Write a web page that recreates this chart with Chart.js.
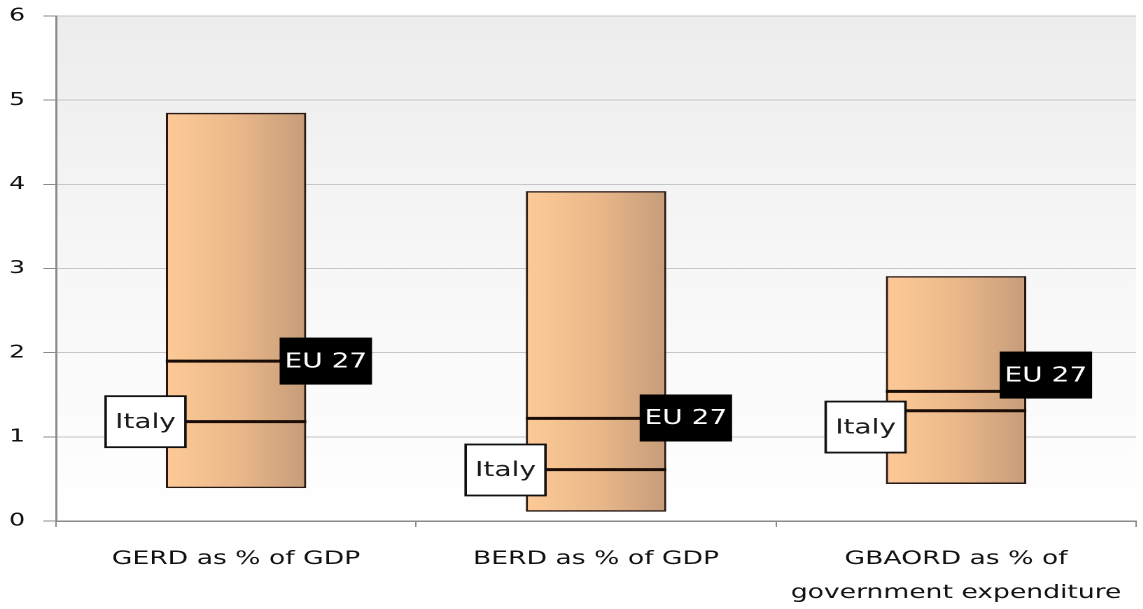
<!DOCTYPE html>
<html>
<head>
<meta charset="utf-8">
<script src="https://cdn.jsdelivr.net/npm/chart.js@4"></script>
<style>
  html, body { margin: 0; padding: 0; background: #fff; overflow: hidden; }
  #wrap { width: 816px; height: 609px; transform: scaleX(1.4); transform-origin: 0 0; }
</style>
</head>
<body>
<div id="wrap"><canvas id="chart" width="816" height="609"></canvas></div>
<script>
// Dữ liệu
const categories = ['GERD as % of GDP', 'BERD as % of GDP', ['GBAORD as % of', 'government expenditure']];
const minValues = [0.39, 0.11, 0.44];
const maxValues = [4.85, 3.92, 2.91];
const eu27Values = [1.90, 1.22, 1.54];
const italyValues = [1.18, 0.61, 1.31];
const yTickMin = 0;
const yTickMax = 6;
const yTickStep = 1;
const euLabel = 'EU 27';
const italyLabel = 'Italy';

const FONT = '"DejaVu Sans", Verdana, sans-serif';

// Nền vùng vẽ: xám nhạt ở trên, trắng ở dưới
const plotBackground = {
    id: 'plotBackground',
    beforeDraw(chart) {
        const { ctx, chartArea } = chart;
        if (!chartArea) return;
        const g = ctx.createLinearGradient(0, chartArea.top, 0, chartArea.bottom);
        g.addColorStop(0, '#ededed');
        g.addColorStop(0.55, '#f8f8f8');
        g.addColorStop(1, '#ffffff');
        ctx.save();
        ctx.fillStyle = g;
        ctx.fillRect(chartArea.left, chartArea.top, chartArea.right - chartArea.left, chartArea.bottom - chartArea.top);
        ctx.restore();
    }
};

// Vạch EU 27 / Italy và nhãn
const markerLines = {
    id: 'markerLines',
    afterDatasetsDraw(chart) {
        const { ctx } = chart;
        const y = chart.scales.y;
        const bars = chart.getDatasetMeta(0).data;
        ctx.save();
        ctx.font = '20px ' + FONT;
        ctx.textAlign = 'center';
        ctx.textBaseline = 'middle';
        bars.forEach((bar, i) => {
            const left = bar.x - bar.width / 2;
            const right = bar.x + bar.width / 2;
            const yEu = y.getPixelForValue(eu27Values[i]);
            const yIt = y.getPixelForValue(italyValues[i]);

            ctx.strokeStyle = '#1a0c06';
            ctx.lineWidth = 3;
            [yEu, yIt].forEach(py => {
                ctx.beginPath();
                ctx.moveTo(left, py);
                ctx.lineTo(right, py);
                ctx.stroke();
            });

            // tách nhãn nếu quá gần nhau
            let cEu = yEu, cIt = yIt;
            const minGap = 52;
            if (Math.abs(cIt - cEu) < minGap) {
                const mid = (cEu + cIt) / 2;
                cEu = mid - minGap / 2;
                cIt = mid + minGap / 2;
            }

            // EU 27: hộp đen chữ trắng
            const ew = 66, eh = 47;
            const ex = right - 19;
            ctx.fillStyle = '#000';
            ctx.fillRect(ex, cEu - eh / 2, ew, eh);
            ctx.fillStyle = '#fff';
            ctx.fillText(euLabel, ex + ew / 2, cEu + 1);

            // Italy: hộp trắng viền đen
            const iw = 57, ih = 51;
            const ix = left + 14 - iw;
            ctx.fillStyle = '#fff';
            ctx.fillRect(ix, cIt - ih / 2, iw, ih);
            ctx.strokeStyle = '#111';
            ctx.lineWidth = 1.8;
            ctx.strokeRect(ix, cIt - ih / 2, iw, ih);
            ctx.fillStyle = '#1a1a1a';
            ctx.fillText(italyLabel, ix + iw / 2, cIt + 1);
        });
        ctx.restore();
    }
};

function barGradient(context) {
    const chart = context.chart;
    const { ctx, chartArea } = chart;
    if (!chartArea) return '#e8b888';
    const x = chart.scales.x;
    const center = x.getPixelForValue(context.dataIndex);
    const half = (x.width / categories.length) * 0.39 / 2;
    const g = ctx.createLinearGradient(center - half, 0, center + half, 0);
    g.addColorStop(0, '#fdca97');
    g.addColorStop(0.5, '#ebb88a');
    g.addColorStop(1, '#c69d7a');
    return g;
}

const ctx = document.getElementById('chart').getContext('2d');
new Chart(ctx, {
    type: 'bar',
    data: {
        labels: categories,
        datasets: [{
            data: minValues.map((v, i) => [v, maxValues[i]]),
            backgroundColor: barGradient,
            borderColor: '#2a1810',
            borderWidth: 1.6,
            borderSkipped: false,
            barPercentage: 0.39,
            categoryPercentage: 1
        }]
    },
    options: {
        responsive: false,
        animation: false,
        devicePixelRatio: 2,
        layout: { padding: { left: 6, top: 16, right: 0, bottom: 0 } },
        plugins: {
            legend: { display: false },
            tooltip: { enabled: false }
        },
        scales: {
            x: {
                afterFit(scale) { scale.height = 88; },
                grid: { drawOnChartArea: false, drawTicks: true, tickLength: 6, color: '#8a8a8a' },
                border: { color: '#8a8a8a', width: 1.5 },
                ticks: {
                    font: { family: FONT, size: 19, lineHeight: 1.8 },
                    color: '#111',
                    padding: 15,
                    maxRotation: 0,
                    autoSkip: false
                }
            },
            y: {
                afterFit(scale) {
                    scale.width = 34;
                    scale.paddingTop = 0;
                    scale.paddingBottom = 0;
                },
                min: yTickMin,
                max: yTickMax,
                ticks: {
                    stepSize: yTickStep,
                    font: { family: FONT, size: 18 },
                    color: '#111',
                    padding: 13
                },
                grid: { color: '#c6c6c6', lineWidth: 1, tickLength: 9, tickColor: '#8a8a8a' },
                border: { color: '#8a8a8a', width: 1.5 }
            }
        }
    },
    plugins: [plotBackground, markerLines]
});
</script>
</body>
</html>
